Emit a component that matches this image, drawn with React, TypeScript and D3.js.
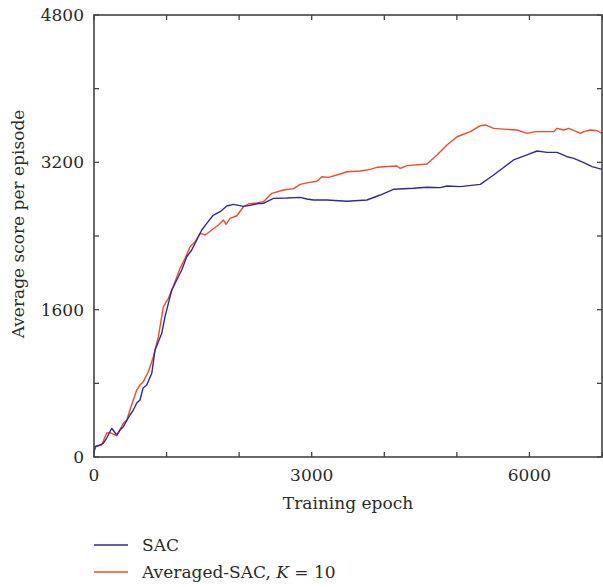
import React from "react";
import * as d3 from "d3";

const sacEpoch = [0, 14, 55, 128, 175, 244, 313, 359, 404, 496, 542, 589, 634, 676, 727, 796, 841, 934, 979, 1025, 1072, 1140, 1209, 1278, 1347, 1416, 1485, 1554, 1645, 1738, 1830, 1921, 2059, 2151, 2244, 2335, 2473, 2657, 2841, 2933, 3024, 3209, 3485, 3761, 3944, 4127, 4403, 4588, 4771, 4864, 5047, 5323, 5507, 5782, 5967, 6105, 6243, 6381, 6519, 6611, 6749, 6864, 7000];
const sacScore = [50, 112, 120, 149, 206, 312, 239, 293, 329, 456, 510, 586, 619, 749, 782, 909, 1162, 1343, 1524, 1669, 1814, 1922, 2031, 2175, 2248, 2357, 2465, 2537, 2628, 2664, 2726, 2744, 2722, 2732, 2750, 2755, 2809, 2812, 2820, 2802, 2791, 2791, 2777, 2791, 2845, 2907, 2918, 2929, 2925, 2943, 2936, 2961, 3063, 3226, 3280, 3323, 3308, 3308, 3261, 3243, 3196, 3153, 3124];

const avgEpoch = [0, 28, 106, 175, 221, 313, 404, 451, 496, 542, 589, 634, 680, 749, 818, 887, 956, 1025, 1072, 1117, 1186, 1255, 1324, 1393, 1462, 1531, 1623, 1714, 1761, 1783, 1820, 1875, 1968, 2059, 2128, 2244, 2335, 2450, 2611, 2749, 2841, 2955, 3071, 3140, 3231, 3392, 3485, 3668, 3806, 3898, 4174, 4220, 4312, 4588, 4726, 4864, 5002, 5185, 5323, 5392, 5507, 5691, 5829, 5967, 6081, 6334, 6381, 6473, 6542, 6702, 6749, 6841, 6933, 7000];
const avgScore = [58, 120, 130, 260, 264, 231, 366, 402, 510, 619, 728, 782, 818, 926, 1089, 1307, 1632, 1723, 1814, 1904, 2049, 2158, 2284, 2338, 2429, 2411, 2465, 2520, 2555, 2574, 2527, 2592, 2620, 2718, 2747, 2760, 2773, 2863, 2900, 2915, 2960, 2980, 2995, 3044, 3037, 3073, 3098, 3106, 3124, 3146, 3160, 3135, 3164, 3182, 3280, 3388, 3478, 3533, 3598, 3606, 3569, 3558, 3551, 3515, 3533, 3533, 3569, 3551, 3569, 3515, 3533, 3551, 3543, 3515];

const xTicks = [0, 1000, 2000, 3000, 4000, 5000, 6000, 7000];
const xTickLabels = ["0", "", "", "3000", "", "", "6000", ""];
const yTicks = [0, 800, 1600, 2400, 3200, 4000, 4800];
const yTickLabels = ["0", "", "1600", "", "3200", "", "4800"];

const seriesNames = ["SAC", "Averaged-SAC"];
const colors = ["#2f2b95", "#f34a2b"];

export default function App() {
  const W = 603, H = 587;
  const L = 94, T = 15, R = 602, B = 457;
  const x = d3.scaleLinear().domain([0, 7000]).range([L, R]);
  const y = d3.scaleLinear().domain([0, 4800]).range([B, T]);
  const line = d3.line<[number, number]>().x(d => x(d[0])).y(d => y(d[1]));
  const sac = sacEpoch.map((e, i) => [e, sacScore[i]] as [number, number]);
  const avg = avgEpoch.map((e, i) => [e, avgScore[i]] as [number, number]);
  const font = "'DejaVu Serif', 'Liberation Serif', serif";
  const fs = 17;
  const axisColor = "#444";
  const textColor = "#2a2a2a";
  const tl = 5;
  return (
    <svg width={W} height={H} style={{ position: "absolute", left: 0, top: 0, display: "block" }} fontFamily={font}>
      <rect x={0} y={0} width={W} height={H} fill="#fff" />
      <path d={line(avg) || ""} fill="none" stroke={colors[1]} strokeWidth={1.4} strokeLinejoin="round" />
      <path d={line(sac) || ""} fill="none" stroke={colors[0]} strokeWidth={1.4} strokeLinejoin="round" />
      <rect x={L} y={T} width={R - L} height={B - T} fill="none" stroke={axisColor} strokeWidth={1.6} />
      {xTicks.map((t, i) => (
        <g key={"xt" + i}>
          <line x1={x(t)} x2={x(t)} y1={B} y2={B - tl} stroke={axisColor} strokeWidth={1.3} />
          <line x1={x(t)} x2={x(t)} y1={T} y2={T + tl} stroke={axisColor} strokeWidth={1.3} />
          {xTickLabels[i] && (
            <text x={x(t)} y={B + 24} textAnchor="middle" fontSize={fs} fill={textColor}>{xTickLabels[i]}</text>
          )}
        </g>
      ))}
      {yTicks.map((t, i) => (
        <g key={"yt" + i}>
          <line x1={L} x2={L + tl} y1={y(t)} y2={y(t)} stroke={axisColor} strokeWidth={1.3} />
          <line x1={R} x2={R - tl} y1={y(t)} y2={y(t)} stroke={axisColor} strokeWidth={1.3} />
          {yTickLabels[i] && (
            <text x={L - 10} y={y(t)} dy="0.36em" textAnchor="end" fontSize={fs} fill={textColor}>{yTickLabels[i]}</text>
          )}
        </g>
      ))}
      <text x={(L + R) / 2} y={509} textAnchor="middle" fontSize={fs} fill={textColor}>Training epoch</text>
      <text transform={`translate(24, 224) rotate(-90)`} textAnchor="middle" fontSize={fs} fill={textColor}>Average score per episode</text>
      <g>
        <line x1={94} x2={128} y1={545} y2={545} stroke={colors[0]} strokeWidth={1.4} />
        <text x={142} y={545} dy="0.36em" fontSize={fs} fill={textColor}>{seriesNames[0]}</text>
        <line x1={94} x2={128} y1={572} y2={572} stroke={colors[1]} strokeWidth={1.4} />
        <text x={142} y={572} dy="0.36em" fontSize={fs} fill={textColor}>
          {seriesNames[1]}, <tspan fontStyle="italic">K</tspan> = 10
        </text>
      </g>
    </svg>
  );
}
